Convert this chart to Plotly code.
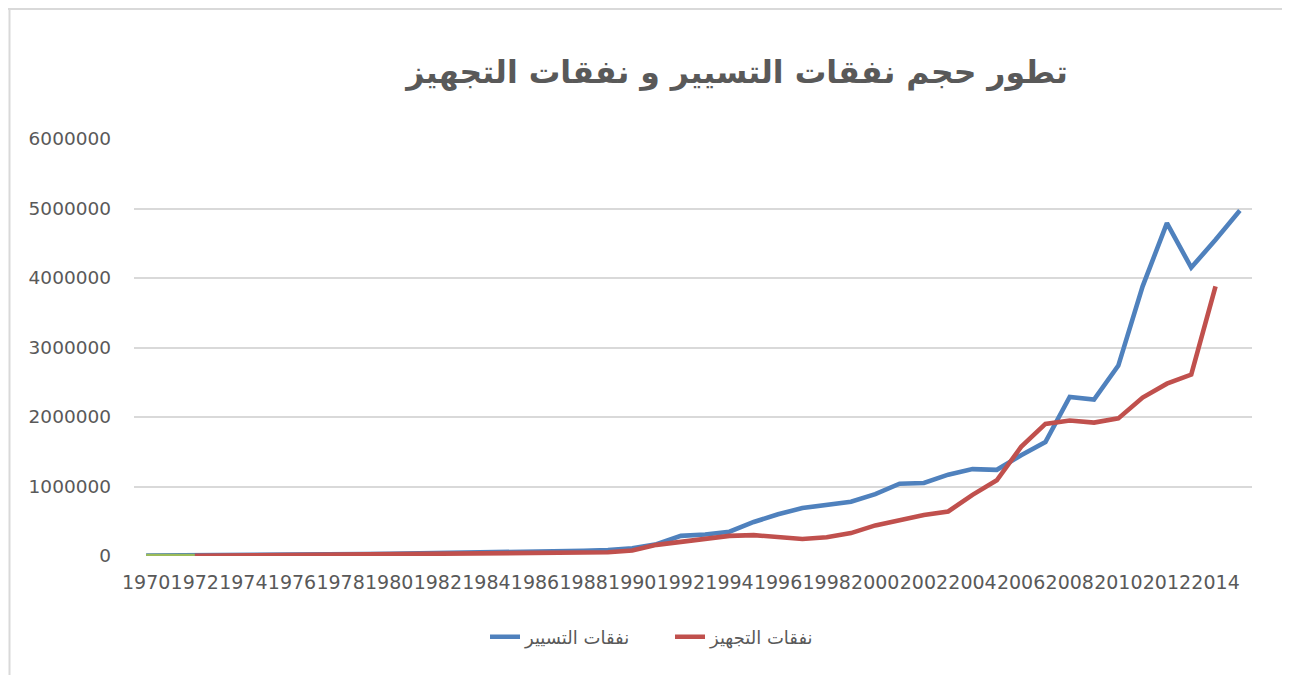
import plotly.graph_objects as go

years = list(range(1970, 2016))

# نفقات التسيير (1970-2015)
operating = [5000, 6000, 7000, 9000, 12000, 15000, 17000, 20000, 24000, 28000,
             33000, 37000, 40000, 43000, 47000, 52000, 57000, 64000, 75000, 85000,
             110000, 170000, 290000, 310000, 350000, 490000, 600000, 690000, 740000, 780000,
             890000, 1040000, 1050000, 1170000, 1250000, 1240000, 1450000, 1640000, 2290000, 2250000,
             2740000, 3880000, 4790000, 4150000, 4550000, 4970000]

# نفقات التجهيز (1972-2014)
equip_years = list(range(1972, 2015))
equipment = [4000, 6000, 8000, 10000, 13000, 16000, 20000, 24000,
             28000, 32000, 35000, 38000, 41000, 43000, 45000, 47000, 50000, 55000,
             80000, 160000, 200000, 250000, 290000, 300000, 280000, 245000, 270000, 330000,
             440000, 520000, 590000, 640000, 880000, 1090000, 1570000, 1900000, 1950000, 1920000,
             1980000, 2280000, 2480000, 2610000, 3880000]

# third (unnamed) series
third_years = [1970, 1971, 1972]
third = [0, 0, 0]

tick_years = list(range(1970, 2015, 2))
y_ticks = [0, 1000000, 2000000, 3000000, 4000000, 5000000, 6000000]

title_text = "تطور حجم نفقات التسيير و نفقات التجهيز"
name_op = "نفقات التسيير"
name_eq = "نفقات التجهيز"

# page body has an 8px margin: figure coords = screen coords - 8
W, H = 1290, 675
L, R, T, B = 126, 46, 131, 127

fig = go.Figure()
fig.add_trace(go.Scatter(x=years, y=operating, mode="lines", name=name_op,
                         line=dict(color="#4F81BD", width=4.6)))
fig.add_trace(go.Scatter(x=equip_years, y=equipment, mode="lines", name=name_eq,
                         line=dict(color="#C0504D", width=4.6)))
fig.add_trace(go.Scatter(x=third_years, y=third, mode="lines", showlegend=False,
                         line=dict(color="#9BBB59", width=4.6)))

pw = W - L - R
ph = H - T - B

def px_x(p):
    return (p - L) / pw

def px_y(p):
    return (H - B - p) / ph

fig.update_layout(
    width=W, height=H,
    margin=dict(l=L, r=R, t=T, b=B, pad=0),
    paper_bgcolor="white", plot_bgcolor="white",
    font=dict(family="DejaVu Sans", color="#595959"),
    title=dict(text="<b>" + title_text + "</b>", x=729 / W, xref="container", xanchor="center",
               y=1 - 64 / H, yref="container", yanchor="middle",
               font=dict(size=31.5, color="#595959", family="DejaVu Sans")),
    xaxis=dict(range=[1969.5, 2015.5], tickmode="array", tickvals=tick_years,
               ticktext=[str(v) for v in tick_years], tickangle=0,
               showgrid=False, zeroline=False, showline=False, ticks="",
               tickfont=dict(size=19, color="#595959", family="DejaVu Sans"), ticklabelstandoff=13),
    yaxis=dict(range=[0, 6000000], tickmode="array", tickvals=y_ticks,
               ticktext=[str(v) for v in y_ticks],
               showgrid=True, gridcolor="#D9D9D9", gridwidth=1.5, zeroline=False,
               showline=False, ticks="",
               tickfont=dict(size=18.5, color="#595959", family="DejaVu Sans"), ticklabelstandoff=22),
    legend=dict(orientation="h", x=px_x(662), xanchor="center", y=px_y(629), yanchor="middle",
                font=dict(size=18, color="#595959", family="DejaVu Sans"),
                entrywidth=140, bgcolor="rgba(0,0,0,0)"),
    showlegend=True,
)

# chart-area border (left and top edges)
fig.add_shape(type="line", xref="paper", yref="paper",
              x0=px_x(1.5), x1=px_x(1.5), y0=px_y(0), y1=px_y(H + 2),
              line=dict(color="#D9D9D9", width=2))
fig.add_shape(type="line", xref="paper", yref="paper",
              x0=px_x(0), x1=px_x(W + 2), y0=px_y(1), y1=px_y(1),
              line=dict(color="#D9D9D9", width=2))

fig.write_html("out.html")
